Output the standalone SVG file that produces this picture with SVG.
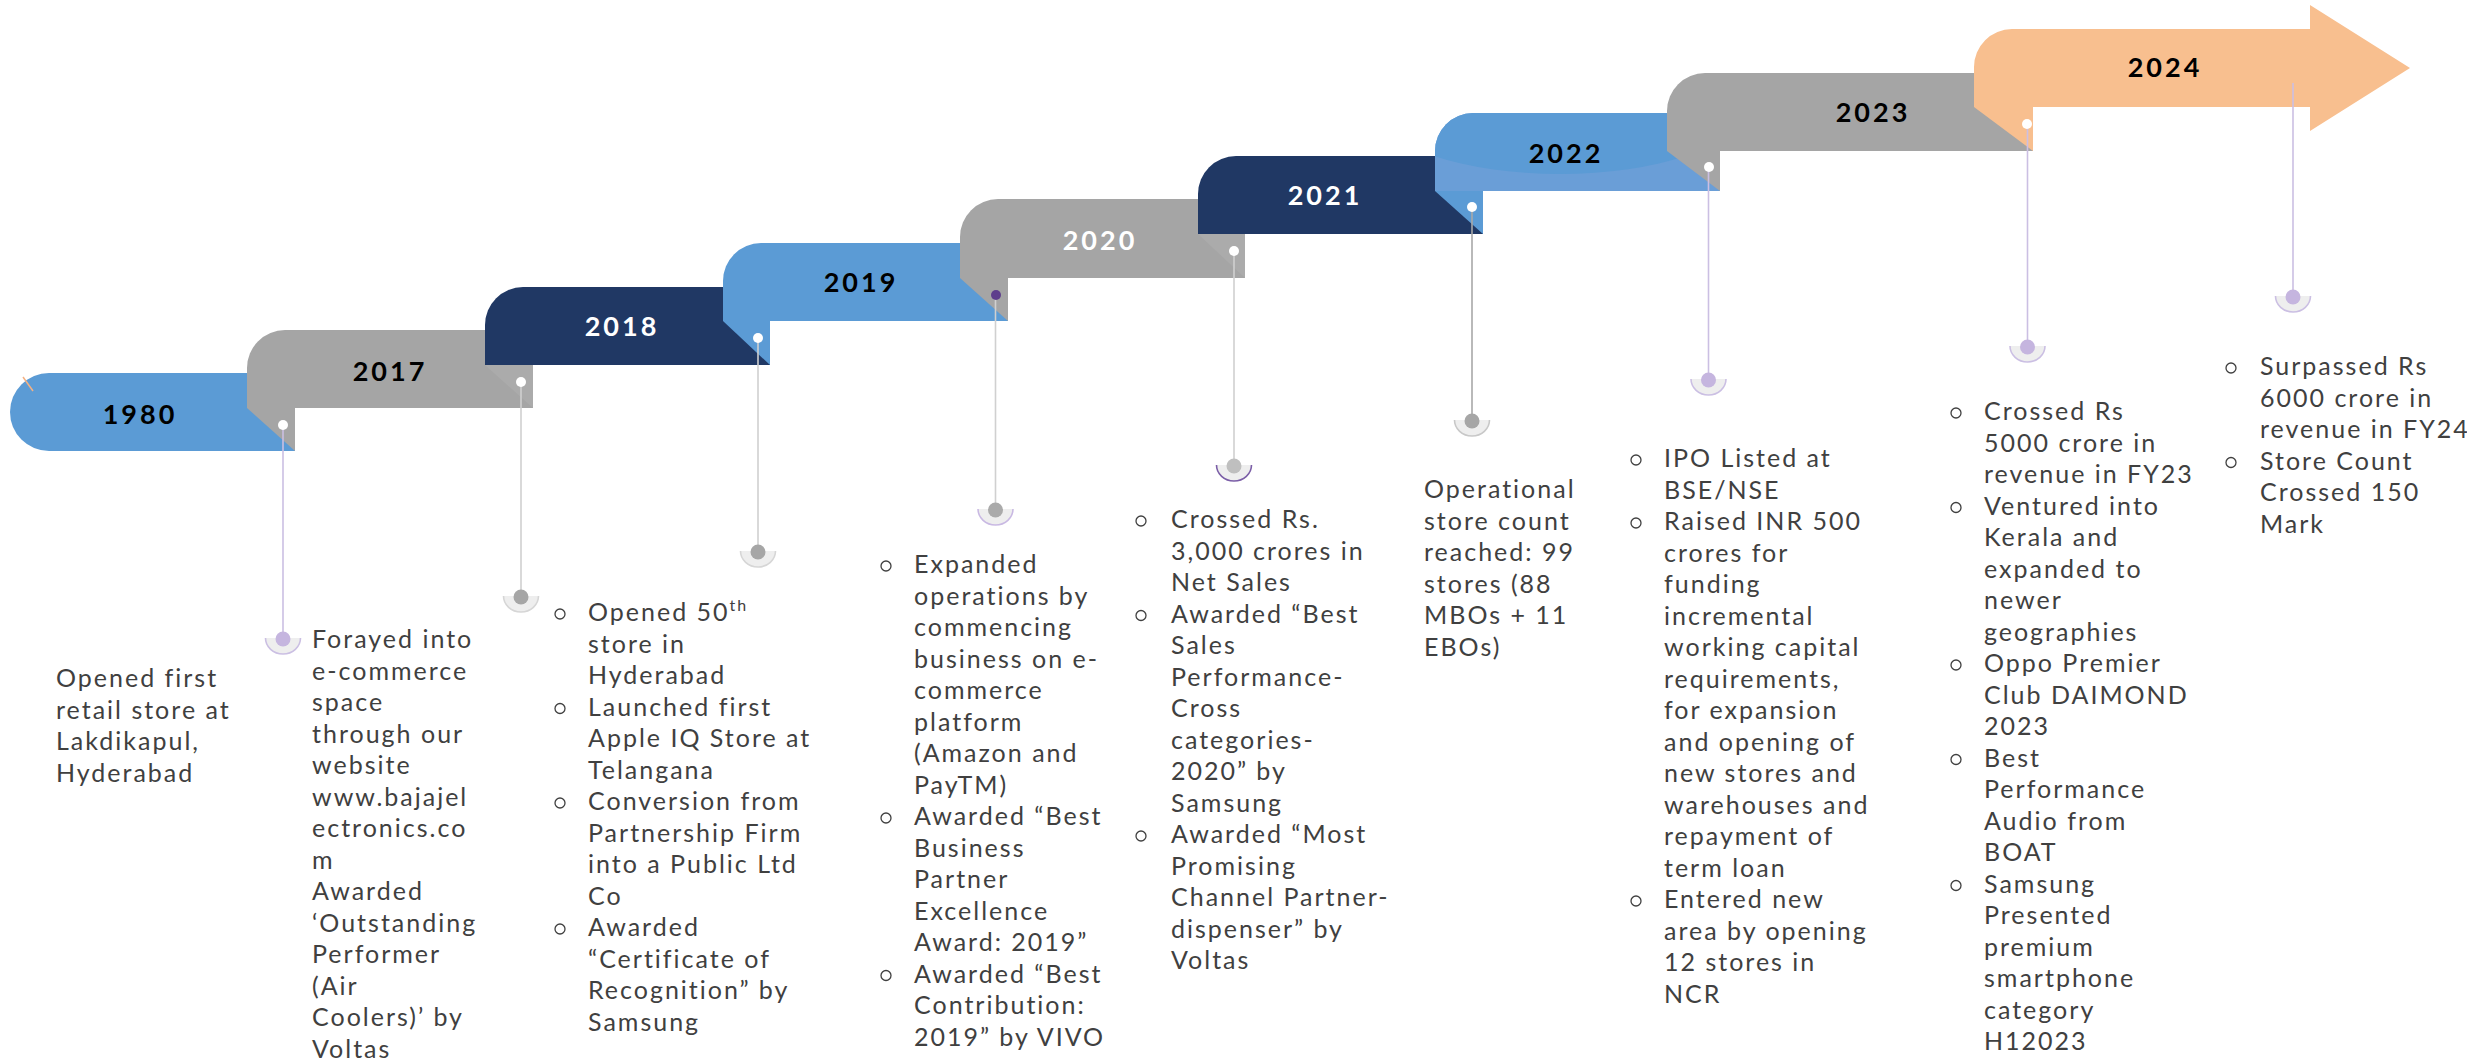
<svg xmlns="http://www.w3.org/2000/svg" width="2467" height="1060" viewBox="0 0 2467 1060">
<defs>
<style>
.blue{fill:#5B9BD5}.gray{fill:#A5A5A5}.navy{fill:#203864}.peach{fill:#F8BF8F}.lgray{fill:#ABABAB}
.yr{font-family:Lato,"Open Sans",sans-serif;font-weight:bold;font-size:27px;letter-spacing:3px;text-anchor:middle;fill:#000}
.yw{fill:#fff}
.t{font-family:Lato,"Open Sans",sans-serif;font-size:25px;letter-spacing:2px;fill:#404040}
.b{fill:none;stroke:#404040;stroke-width:1.3}
.ln{stroke-width:1.6;fill:none}
.lav{stroke:#CBBFE3}.gr{stroke:#D0D0D0}.dg{stroke:#A8A8A8}
.wd{fill:#fff}
.rf{fill:#EEEEEE}
.ra{fill:none;stroke-width:1.6}
</style>
<clipPath id="c2022"><path d="M1473,113 H1720 V191 H1435 V151 A38 38 0 0 1 1473 113 Z"/></clipPath>
</defs>
<rect width="2467" height="1060" fill="#fff"/>

<g id="node-1980">
<path class="blue" d="M49,373 H295 V451 H49 A39 39 0 0 1 49 373 Z"/>
<line x1="23" y1="377" x2="33" y2="391" stroke="#F4B183" stroke-width="1.5"/>
<text class="yr" x="140" y="424">1980</text>
<text class="t" x="56" y="687"><tspan x="56" dy="0">Opened first</tspan><tspan x="56" dy="31.5">retail store at</tspan><tspan x="56" dy="31.5">Lakdikapul,</tspan><tspan x="56" dy="31.5">Hyderabad</tspan></text>
</g>

<g id="node-2017">
<path class="gray" d="M285,330 H533 V408 H247 V368 A38 38 0 0 1 285 330 Z"/>
<path class="gray" d="M247,408 H295 V451 Z"/>
<text class="yr" x="390" y="381">2017</text>
<text class="t" x="312" y="648"><tspan x="312" dy="0">Forayed into</tspan><tspan x="312" dy="31.5">e-commerce</tspan><tspan x="312" dy="31.5">space</tspan><tspan x="312" dy="31.5">through our</tspan><tspan x="312" dy="31.5">website</tspan><tspan x="312" dy="31.5">www.bajajel</tspan><tspan x="312" dy="31.5">ectronics.co</tspan><tspan x="312" dy="31.5">m</tspan><tspan x="312" dy="31.5">Awarded</tspan><tspan x="312" dy="31.5">‘Outstanding</tspan><tspan x="312" dy="31.5">Performer</tspan><tspan x="312" dy="31.5">(Air</tspan><tspan x="312" dy="31.5">Coolers)’ by</tspan><tspan x="312" dy="31.5">Voltas</tspan></text>
</g>

<g id="node-2018">
<path class="navy" d="M523,287 H770 V365 H485 V325 A38 38 0 0 1 523 287 Z"/>
<path class="lgray" d="M485,365 H533 V408 Z"/>
<text class="yr yw" x="622" y="336">2018</text>
<circle class="b" cx="560" cy="614" r="5"/><circle class="b" cx="560" cy="708.5" r="5"/><circle class="b" cx="560" cy="803" r="5"/><circle class="b" cx="560" cy="929" r="5"/>
<text class="t" x="588" y="621"><tspan x="588" dy="0">Opened 50</tspan><tspan font-size="16" dy="-10">th</tspan><tspan x="588" dy="41.5">store in</tspan><tspan x="588" dy="31.5">Hyderabad</tspan><tspan x="588" dy="31.5">Launched first</tspan><tspan x="588" dy="31.5">Apple IQ Store at</tspan><tspan x="588" dy="31.5">Telangana</tspan><tspan x="588" dy="31.5">Conversion from</tspan><tspan x="588" dy="31.5">Partnership Firm</tspan><tspan x="588" dy="31.5">into a Public Ltd</tspan><tspan x="588" dy="31.5">Co</tspan><tspan x="588" dy="31.5">Awarded</tspan><tspan x="588" dy="31.5">“Certificate of</tspan><tspan x="588" dy="31.5">Recognition” by</tspan><tspan x="588" dy="31.5">Samsung</tspan></text>
</g>

<g id="node-2019">
<path class="blue" d="M761,243 H1008 V321 H723 V281 A38 38 0 0 1 761 243 Z"/>
<path class="blue" d="M723,321 H770 V365 Z"/>
<text class="yr" x="861" y="292">2019</text>
<circle class="b" cx="886" cy="566" r="5"/><circle class="b" cx="886" cy="818" r="5"/><circle class="b" cx="886" cy="975.5" r="5"/>
<text class="t" x="914" y="573"><tspan x="914" dy="0">Expanded</tspan><tspan x="914" dy="31.5">operations by</tspan><tspan x="914" dy="31.5">commencing</tspan><tspan x="914" dy="31.5">business on e-</tspan><tspan x="914" dy="31.5">commerce</tspan><tspan x="914" dy="31.5">platform</tspan><tspan x="914" dy="31.5">(Amazon and</tspan><tspan x="914" dy="31.5">PayTM)</tspan><tspan x="914" dy="31.5">Awarded “Best</tspan><tspan x="914" dy="31.5">Business</tspan><tspan x="914" dy="31.5">Partner</tspan><tspan x="914" dy="31.5">Excellence</tspan><tspan x="914" dy="31.5">Award: 2019”</tspan><tspan x="914" dy="31.5">Awarded “Best</tspan><tspan x="914" dy="31.5">Contribution:</tspan><tspan x="914" dy="31.5">2019” by VIVO</tspan></text>
</g>

<g id="node-2020">
<path class="gray" d="M998,199 H1245 V278 H960 V237 A38 38 0 0 1 998 199 Z"/>
<path class="gray" d="M960,278 H1008 V321 Z"/>
<text class="yr yw" x="1100" y="250">2020</text>
<circle class="b" cx="1141" cy="521" r="5"/><circle class="b" cx="1141" cy="615.5" r="5"/><circle class="b" cx="1141" cy="836" r="5"/>
<text class="t" x="1171" y="528"><tspan x="1171" dy="0">Crossed Rs.</tspan><tspan x="1171" dy="31.5">3,000 crores in</tspan><tspan x="1171" dy="31.5">Net Sales</tspan><tspan x="1171" dy="31.5">Awarded “Best</tspan><tspan x="1171" dy="31.5">Sales</tspan><tspan x="1171" dy="31.5">Performance-</tspan><tspan x="1171" dy="31.5">Cross</tspan><tspan x="1171" dy="31.5">categories-</tspan><tspan x="1171" dy="31.5">2020” by</tspan><tspan x="1171" dy="31.5">Samsung</tspan><tspan x="1171" dy="31.5">Awarded “Most</tspan><tspan x="1171" dy="31.5">Promising</tspan><tspan x="1171" dy="31.5">Channel Partner-</tspan><tspan x="1171" dy="31.5">dispenser” by</tspan><tspan x="1171" dy="31.5">Voltas</tspan></text>
</g>

<g id="node-2021">
<path class="navy" d="M1236,156 H1483 V234 H1198 V194 A38 38 0 0 1 1236 156 Z"/>
<path class="lgray" d="M1198,234 H1245 V278 Z"/>
<text class="yr yw" x="1325" y="205">2021</text>
<text class="t" x="1424" y="498"><tspan x="1424" dy="0">Operational</tspan><tspan x="1424" dy="31.5">store count</tspan><tspan x="1424" dy="31.5">reached: 99</tspan><tspan x="1424" dy="31.5">stores (88</tspan><tspan x="1424" dy="31.5">MBOs + 11</tspan><tspan x="1424" dy="31.5">EBOs)</tspan></text>
</g>

<g id="node-2022">
<path fill="#6A9ED7" d="M1473,113 H1720 V191 H1435 V151 A38 38 0 0 1 1473 113 Z"/>
<ellipse cx="1560" cy="112" rx="178" ry="62" fill="#5B9BD5" clip-path="url(#c2022)"/>
<path class="blue" d="M1435,191 H1483 V234 Z"/>
<text class="yr" x="1566" y="163">2022</text>
<circle class="b" cx="1636" cy="460" r="5"/><circle class="b" cx="1636" cy="523" r="5"/><circle class="b" cx="1636" cy="901" r="5"/>
<text class="t" x="1664" y="467"><tspan x="1664" dy="0">IPO Listed at</tspan><tspan x="1664" dy="31.5">BSE/NSE</tspan><tspan x="1664" dy="31.5">Raised INR 500</tspan><tspan x="1664" dy="31.5">crores for</tspan><tspan x="1664" dy="31.5">funding</tspan><tspan x="1664" dy="31.5">incremental</tspan><tspan x="1664" dy="31.5">working capital</tspan><tspan x="1664" dy="31.5">requirements,</tspan><tspan x="1664" dy="31.5">for expansion</tspan><tspan x="1664" dy="31.5">and opening of</tspan><tspan x="1664" dy="31.5">new stores and</tspan><tspan x="1664" dy="31.5">warehouses and</tspan><tspan x="1664" dy="31.5">repayment of</tspan><tspan x="1664" dy="31.5">term loan</tspan><tspan x="1664" dy="31.5">Entered new</tspan><tspan x="1664" dy="31.5">area by opening</tspan><tspan x="1664" dy="31.5">12 stores in</tspan><tspan x="1664" dy="31.5">NCR</tspan></text>
</g>

<g id="node-2023">
<path class="gray" d="M1705,73 H2033 V151 H1667 V111 A38 38 0 0 1 1705 73 Z"/>
<path class="gray" d="M1667,151 H1720 V191 Z"/>
<text class="yr" x="1873" y="122">2023</text>
<circle class="b" cx="1956" cy="413" r="5"/><circle class="b" cx="1956" cy="507.5" r="5"/><circle class="b" cx="1956" cy="665" r="5"/><circle class="b" cx="1956" cy="759.5" r="5"/><circle class="b" cx="1956" cy="885.5" r="5"/>
<text class="t" x="1984" y="420"><tspan x="1984" dy="0">Crossed Rs</tspan><tspan x="1984" dy="31.5">5000 crore in</tspan><tspan x="1984" dy="31.5">revenue in FY23</tspan><tspan x="1984" dy="31.5">Ventured into</tspan><tspan x="1984" dy="31.5">Kerala and</tspan><tspan x="1984" dy="31.5">expanded to</tspan><tspan x="1984" dy="31.5">newer</tspan><tspan x="1984" dy="31.5">geographies</tspan><tspan x="1984" dy="31.5">Oppo Premier</tspan><tspan x="1984" dy="31.5">Club DAIMOND</tspan><tspan x="1984" dy="31.5">2023</tspan><tspan x="1984" dy="31.5">Best</tspan><tspan x="1984" dy="31.5">Performance</tspan><tspan x="1984" dy="31.5">Audio from</tspan><tspan x="1984" dy="31.5">BOAT</tspan><tspan x="1984" dy="31.5">Samsung</tspan><tspan x="1984" dy="31.5">Presented</tspan><tspan x="1984" dy="31.5">premium</tspan><tspan x="1984" dy="31.5">smartphone</tspan><tspan x="1984" dy="31.5">category</tspan><tspan x="1984" dy="31.5">H12023</tspan></text>
</g>

<g id="node-2024">
<path class="peach" d="M2012,29 H2310 V5 L2410,68 L2310,131 V107 H1974 V67 A38 38 0 0 1 2012 29 Z"/>
<path class="peach" d="M1974,107 H2033 V151 Z"/>
<text class="yr" x="2165" y="77">2024</text>
<circle class="b" cx="2231" cy="368" r="5"/><circle class="b" cx="2231" cy="462.5" r="5"/>
<text class="t" x="2260" y="375"><tspan x="2260" dy="0">Surpassed Rs</tspan><tspan x="2260" dy="31.5">6000 crore in</tspan><tspan x="2260" dy="31.5">revenue in FY24</tspan><tspan x="2260" dy="31.5">Store Count</tspan><tspan x="2260" dy="31.5">Crossed 150</tspan><tspan x="2260" dy="31.5">Mark</tspan></text>
</g>

<g id="connectors">
<line class="ln lav" x1="283" y1="425" x2="283" y2="639"/>
<line class="ln gr" x1="521" y1="382" x2="521" y2="597"/>
<line class="ln gr" x1="758" y1="338" x2="758" y2="552"/>
<line class="ln gr" x1="995.5" y1="295" x2="995.5" y2="510"/>
<line class="ln gr" x1="1234" y1="251" x2="1234" y2="466"/>
<line class="ln dg" x1="1472" y1="207" x2="1472" y2="421"/>
<line class="ln lav" x1="1708.5" y1="167" x2="1708.5" y2="380"/>
<line class="ln lav" x1="2027.5" y1="124" x2="2027.5" y2="347"/>
<line class="ln lav" x1="2293" y1="83" x2="2293" y2="297"/>

<circle class="wd" cx="283" cy="425" r="5"/>
<circle class="wd" cx="521" cy="382" r="5"/>
<circle class="wd" cx="758" cy="338" r="5"/>
<circle fill="#5E3E8C" cx="996" cy="295" r="5"/>
<circle class="wd" cx="1234" cy="251" r="5"/>
<circle class="wd" cx="1472" cy="207" r="5"/>
<circle class="wd" cx="1709" cy="167" r="5"/>
<circle class="wd" cx="2027" cy="124" r="5"/>

<path class="rf" d="M265.5,638 A17.5 16 0 0 0 300.5,638 Z"/><path class="ra lav" d="M265.5,638 A17.5 16 0 0 0 300.5,638"/><circle fill="#C5B5DF" cx="283" cy="639" r="7.5"/>
<path class="rf" d="M503.5,596 A17.5 16 0 0 0 538.5,596 Z"/><path class="ra" stroke="#D6D6D6" d="M503.5,596 A17.5 16 0 0 0 538.5,596"/><circle fill="#A6A6A6" cx="521" cy="597" r="7.5"/>
<path class="rf" d="M740.5,551 A17.5 16 0 0 0 775.5,551 Z"/><path class="ra" stroke="#D6D6D6" d="M740.5,551 A17.5 16 0 0 0 775.5,551"/><circle fill="#A6A6A6" cx="758" cy="552" r="7.5"/>
<path class="rf" d="M978,509 A17.5 16 0 0 0 1013,509 Z"/><path class="ra" stroke="#C9B9E3" d="M978,509 A17.5 16 0 0 0 1013,509"/><circle fill="#AAAAAA" cx="995.5" cy="510" r="7.5"/>
<path class="rf" d="M1216.5,465 A17.5 16 0 0 0 1251.5,465 Z"/><path class="ra" stroke="#7B5EA7" stroke-width="2" d="M1216.5,465 A17.5 16 0 0 0 1251.5,465"/><circle fill="#BFBFBF" cx="1234" cy="466" r="7.5"/>
<path class="rf" d="M1454.5,420 A17.5 16 0 0 0 1489.5,420 Z"/><path class="ra" stroke="#C8C8C8" d="M1454.5,420 A17.5 16 0 0 0 1489.5,420"/><circle fill="#A6A6A6" cx="1472" cy="421" r="7.5"/>
<path class="rf" d="M1691,379 A17.5 16 0 0 0 1726,379 Z"/><path class="ra lav" d="M1691,379 A17.5 16 0 0 0 1726,379"/><circle fill="#C5B5DF" cx="1708.5" cy="380" r="7.5"/>
<path class="rf" d="M2010,346 A17.5 16 0 0 0 2045,346 Z"/><path class="ra lav" d="M2010,346 A17.5 16 0 0 0 2045,346"/><circle fill="#C5B5DF" cx="2027.5" cy="347" r="7.5"/>
<path class="rf" d="M2275.5,296 A17.5 16 0 0 0 2310.5,296 Z"/><path class="ra lav" d="M2275.5,296 A17.5 16 0 0 0 2310.5,296"/><circle fill="#C5B5DF" cx="2293" cy="297" r="7.5"/>
</g>
</svg>
